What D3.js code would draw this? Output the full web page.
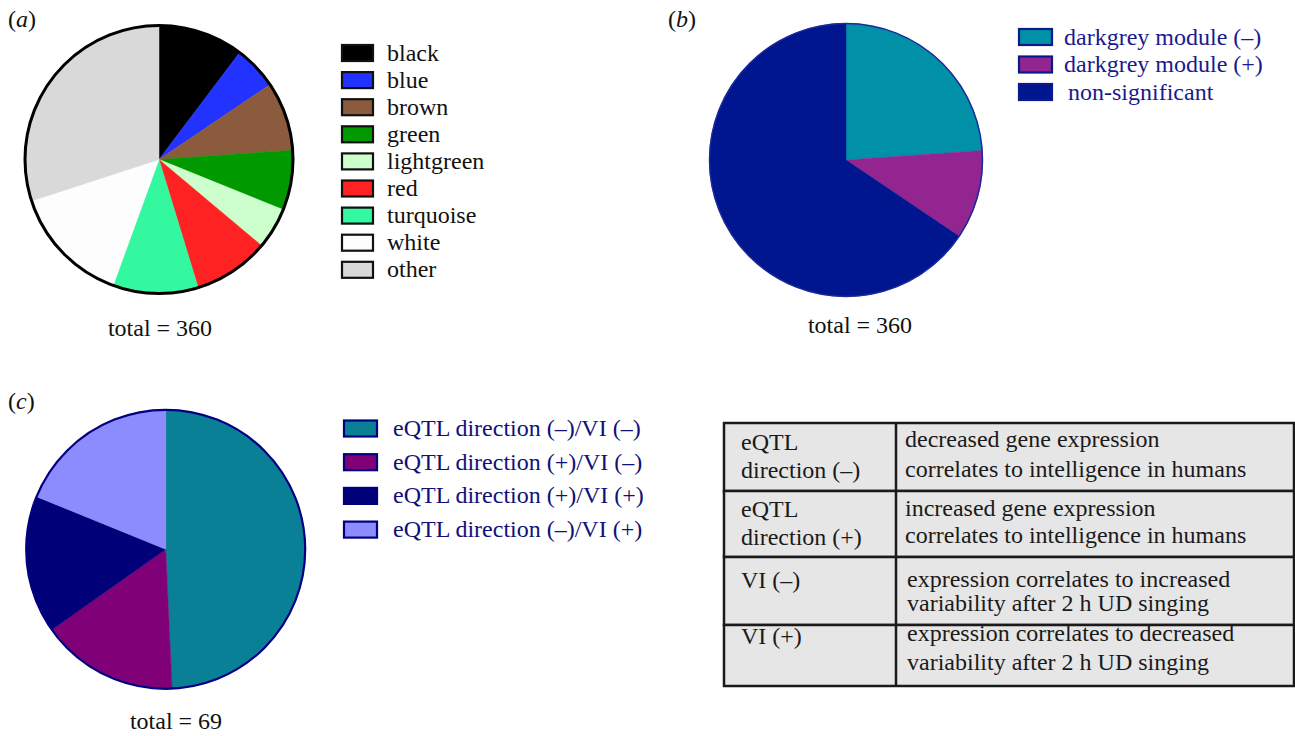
<!DOCTYPE html>
<html>
<head>
<meta charset="utf-8">
<script src="https://cdn.jsdelivr.net/npm/d3@7"></script>
<style>
  html, body { margin: 0; padding: 0; background: #ffffff; }
  svg { display: block; }
  text { font-family: "Liberation Serif", "Times New Roman", serif; }
</style>
</head>
<body>
<svg id="fig" width="1295" height="736"></svg>
<script>
// (a) co-expression module membership of the 360 genes
const moduleNames  = ["black", "blue", "brown", "green", "lightgreen", "red", "turquoise", "white", "other"];
const moduleCounts = [37, 19, 30, 26, 18, 33, 37, 52, 108];
const moduleColors = ["#000000", "#2233ff", "#8c5a3c", "#009900", "#ccffcc", "#ff2222", "#33f8a0", "#fdfdfd", "#d9d9d9"];

// (b) darkgrey module association
const darkgreyNames  = ["darkgrey module (\u2013)", "darkgrey module (+)", "non-significant"];
const darkgreyCounts = [86, 38, 236];
const darkgreyColors = ["#0090a8", "#922590", "#00168f"];

// (c) eQTL direction vs. vocal variability index
const eqtlNames  = ["eQTL direction (\u2013)/VI (\u2013)", "eQTL direction (+)/VI (\u2013)", "eQTL direction (+)/VI (+)", "eQTL direction (\u2013)/VI (+)"];
const eqtlCounts = [34, 11, 11, 13];
const eqtlColors = ["#0a8096", "#800078", "#000078", "#8c8cff"];

// key to the terms used in (c)
const tableTerms = [["eQTL", "direction (\u2013)"], ["eQTL", "direction (+)"], ["VI (\u2013)"], ["VI (+)"]];
const tableDefs  = [
  ["decreased gene expression", "correlates to intelligence in humans"],
  ["increased gene expression", "correlates to intelligence in humans"],
  ["expression correlates to increased", "variability after 2 h UD singing"],
  ["expression correlates to decreased", "variability after 2 h UD singing"]
];

const svg = d3.select("#fig");

function drawPie(cfg) {
  const g = svg.append("g").attr("transform", `translate(${cfg.cx},${cfg.cy})`);
  const pie = d3.pie().sort(null).value(d => d.v);
  const arc = d3.arc().innerRadius(0).outerRadius(cfg.r);
  const data = cfg.names.map((n, i) => ({ n, v: cfg.counts[i], c: cfg.colors[i] }));
  const color = d3.scaleOrdinal().domain(cfg.names).range(cfg.colors);
  g.selectAll("path.slice").data(pie(data)).join("path")
    .attr("class", "slice")
    .attr("d", arc)
    .attr("fill", d => color(d.data.n))
    .attr("stroke", d => color(d.data.n))
    .attr("stroke-width", 0.5);
  g.append("circle").attr("r", cfg.r)
    .attr("fill", "none").attr("stroke", cfg.outline).attr("stroke-width", cfg.outlineWidth);

  svg.append("text")
    .attr("x", cfg.totalX).attr("y", cfg.totalY)
    .attr("text-anchor", "middle").attr("font-size", 24).attr("fill", "#111")
    .text(`total = ${d3.sum(cfg.counts)}`);

  const lg = svg.append("g").attr("transform", `translate(${cfg.legendX},${cfg.legendY})`);
  const rows = lg.selectAll("g").data(data).join("g")
    .attr("transform", (d, i) => `translate(0,${i * cfg.legendStep})`);
  rows.append("rect")
    .attr("x", 0).attr("y", -cfg.boxH / 2).attr("width", cfg.boxW).attr("height", cfg.boxH)
    .attr("fill", d => d.c).attr("stroke", cfg.boxStroke).attr("stroke-width", 2.2);
  rows.append("text")
    .attr("x", (d, i) => cfg.textDx + (cfg.textShift ? cfg.textShift[i] : 0))
    .attr("y", 7.5)
    .attr("font-size", 24).attr("fill", cfg.textColor)
    .text(d => d.n);
}

function panelLabel(x, y, letter) {
  const t = svg.append("text").attr("x", x).attr("y", y).attr("font-size", 24).attr("fill", "#111");
  t.append("tspan").text("(");
  t.append("tspan").attr("font-style", "italic").text(letter);
  t.append("tspan").text(")");
}

// (a)
panelLabel(8, 27, "a");
drawPie({
  cx: 159, cy: 159.5, r: 134, outline: "#000", outlineWidth: 3,
  names: moduleNames, counts: moduleCounts, colors: moduleColors,
  totalX: 160, totalY: 336,
  legendX: 342, legendY: 53, legendStep: 27.1, boxW: 31, boxH: 16, boxStroke: "#111",
  textDx: 45, textColor: "#111"
});

// (b)
panelLabel(668, 27, "b");
drawPie({
  cx: 846, cy: 160, r: 136.5, outline: "#1a2a9a", outlineWidth: 1.5,
  names: darkgreyNames, counts: darkgreyCounts, colors: darkgreyColors,
  totalX: 860, totalY: 333,
  legendX: 1019, legendY: 37, legendStep: 27.5, boxW: 33, boxH: 16, boxStroke: "#0a1a8c",
  textDx: 45, textShift: [0, 0, 4], textColor: "#1a1a8c"
});

// (c)
panelLabel(8, 409, "c");
drawPie({
  cx: 165.7, cy: 549.3, r: 139.5, outline: "#000080", outlineWidth: 2.2,
  names: eqtlNames, counts: eqtlCounts, colors: eqtlColors,
  totalX: 176, totalY: 729,
  legendX: 344, legendY: 428.5, legendStep: 33.7, boxW: 33, boxH: 16, boxStroke: "#000080",
  textDx: 49, textColor: "#10107a"
});

// key table
const tblX = 724, tblRight = 1294, colX = 896;
const rowEdges = [423, 491, 557, 625, 686];
const tbl = svg.append("g");
const rowData = tableTerms.map((t, i) => ({ term: t, def: tableDefs[i], y0: rowEdges[i], y1: rowEdges[i + 1] }));
tbl.selectAll("rect.cell").data(rowData).join("rect")
  .attr("class", "cell")
  .attr("x", tblX).attr("y", d => d.y0).attr("width", tblRight - tblX).attr("height", d => d.y1 - d.y0)
  .attr("fill", "#e6e6e6").attr("stroke", "#1a1a1a").attr("stroke-width", 2.5);
tbl.append("line")
  .attr("x1", colX).attr("x2", colX).attr("y1", rowEdges[0]).attr("y2", rowEdges[4])
  .attr("stroke", "#1a1a1a").attr("stroke-width", 2.5);

// per-row baselines: [term line1, term line2, def line1, def line2]
const baseTerm = [[450, 478], [517, 545], [588], [644]];
const baseDef  = [[447, 477], [516, 543], [587, 611], [641, 670]];
const defX = [905, 905, 907, 907];

rowData.forEach((d, i) => {
  d.term.forEach((line, j) => {
    tbl.append("text").attr("x", 741).attr("y", baseTerm[i][j])
      .attr("font-size", 24).attr("fill", "#1a1a1a").text(line);
  });
  d.def.forEach((line, j) => {
    tbl.append("text").attr("x", defX[i]).attr("y", baseDef[i][j])
      .attr("font-size", 24).attr("fill", "#1a1a1a").text(line);
  });
});
</script>
</body>
</html>
